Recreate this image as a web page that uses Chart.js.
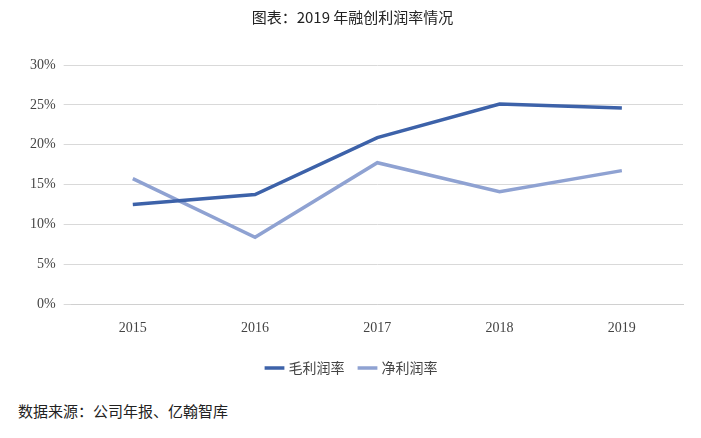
<!DOCTYPE html>
<html><head><meta charset="utf-8">
<script src="https://cdn.jsdelivr.net/npm/chart.js@4"></script>
<style>
body{margin:0;background:#fff;}
#wrap{position:relative;width:701px;height:438px;}
#src{position:absolute;left:18px;top:400px;font:15px "Noto Sans CJK SC";color:#222;}
</style></head><body>
<div id="wrap"><canvas id="c" width="701" height="385"></canvas><div id="src">数据来源：公司年报、亿翰智库</div></div>
<script>
// 数据
const years = ["2015", "2016", "2017", "2018", "2019"];
const grossMargin = [12.5, 13.75, 20.9, 25.1, 24.6];
const netMargin = [15.75, 8.4, 17.75, 14.1, 16.75];

const ctx = document.getElementById("c").getContext("2d");
new Chart(ctx, {
    type: "line",
    data: {
        labels: years,
        datasets: [
            { label: "毛利润率", data: grossMargin, borderColor: "#3d62a9", borderWidth: 3.5, pointRadius: 0, tension: 0 },
            { label: "净利润率", data: netMargin, borderColor: "#8fa2d2", borderWidth: 3.5, pointRadius: 0, tension: 0 }
        ]
    },
    options: {
        responsive: false,
        animation: false,
        layout: { padding: { left: 22, right: 18, top: 0, bottom: 0 } },
        plugins: {
            title: { display: true, text: "图表：2019 年融创利润率情况", color: "#222", font: { family: "Noto Sans CJK SC", size: 15, weight: "normal" }, padding: { top: 8, bottom: 39 } },
            legend: {
                position: "bottom",
                labels: { usePointStyle: true, pointStyle: "line", color: "#444", font: { family: "Noto Sans CJK SC", size: 14 }, padding: 16 }
            }
        },
        scales: {
            x: {
                offset: true,
                grid: { display: false },
                border: { color: "#d0d0d0" },
                ticks: { color: "#444", font: { family: "Liberation Serif", size: 14 }, padding: 8 }
            },
            y: {
                min: 0, max: 30,
                grid: { color: "#d9d9d9" },
                border: { display: false },
                ticks: { stepSize: 5, color: "#444", font: { family: "Liberation Serif", size: 14 }, padding: 8, callback: v => v + "%" }
            }
        }
    }
});
</script></body></html>
